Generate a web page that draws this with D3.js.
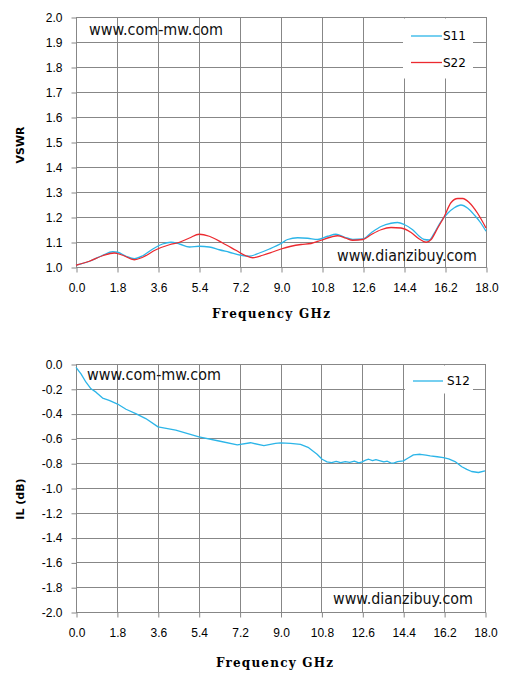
<!DOCTYPE html>
<html>
<head>
<meta charset="utf-8">
<script src="https://cdn.jsdelivr.net/npm/d3@7"></script>
<style>
  html, body { margin: 0; padding: 0; background: #fff; }
  svg { display: block; }
</style>
</head>
<body>
<script>
// ---------- DATA ----------
const xTickValues = [0, 1.8, 3.6, 5.4, 7.2, 9.0, 10.8, 12.6, 14.4, 16.2, 18.0];
const xTickLabels = ["0.0", "1.8", "3.6", "5.4", "7.2", "9.0", "10.8", "12.6", "14.4", "16.2", "18.0"];
const vswrTickValues = [1.0, 1.1, 1.2, 1.3, 1.4, 1.5, 1.6, 1.7, 1.8, 1.9, 2.0];
const vswrTickLabels = ["1.0", "1.1", "1.2", "1.3", "1.4", "1.5", "1.6", "1.7", "1.8", "1.9", "2.0"];
const ilTickValues = [0, -0.2, -0.4, -0.6, -0.8, -1.0, -1.2, -1.4, -1.6, -1.8, -2.0];
const ilTickLabels = ["0.0", "-0.2", "-0.4", "-0.6", "-0.8", "-1.0", "-1.2", "-1.4", "-1.6", "-1.8", "-2.0"];

const s11Freq = [0.00, 0.59, 1.17, 1.61, 1.83, 2.20, 2.56, 2.93, 3.37, 3.80, 4.17, 4.54, 4.98, 5.41, 5.85, 6.29, 6.73, 7.24, 7.61, 8.05, 8.49, 9.00,
  9.29, 9.73, 10.17, 10.61, 11.05, 11.41, 11.78, 12.15, 12.59, 12.95, 13.39, 13.83, 14.12, 14.41, 14.78, 15.07, 15.29, 15.51, 15.73, 16.02, 16.32, 16.61, 16.90, 17.20, 17.49, 17.78, 18.00];
const s11Vals = [1.007, 1.023, 1.047, 1.061, 1.059, 1.043, 1.033, 1.045, 1.072, 1.092, 1.099, 1.092, 1.080, 1.083, 1.080, 1.069, 1.059, 1.047, 1.043, 1.056, 1.072, 1.094,
  1.110, 1.117, 1.115, 1.110, 1.123, 1.131, 1.120, 1.110, 1.112, 1.136, 1.162, 1.175, 1.178, 1.170, 1.149, 1.123, 1.110, 1.108, 1.136, 1.182, 1.215, 1.237, 1.248, 1.235, 1.208, 1.175, 1.143];

const s22Freq = [0.00, 0.59, 1.17, 1.68, 2.05, 2.56, 2.93, 3.51, 4.10, 4.54, 4.98, 5.41, 5.85, 6.44, 7.02, 7.46, 7.76, 8.20, 8.63, 9.00,
  9.44, 9.88, 10.32, 10.76, 11.20, 11.49, 11.85, 12.15, 12.59, 12.95, 13.39, 13.83, 14.27, 14.71, 15.07, 15.37, 15.59, 15.88, 16.17, 16.46, 16.76, 16.98, 17.27, 17.63, 18.00];
const s22Vals = [1.007, 1.023, 1.045, 1.056, 1.047, 1.029, 1.039, 1.069, 1.089, 1.099, 1.116, 1.131, 1.123, 1.096, 1.067, 1.045, 1.037, 1.047, 1.060, 1.072,
  1.083, 1.090, 1.094, 1.107, 1.120, 1.125, 1.115, 1.107, 1.110, 1.129, 1.149, 1.158, 1.156, 1.138, 1.112, 1.099, 1.110, 1.156, 1.202, 1.257, 1.274, 1.274, 1.257, 1.215, 1.156];

const s12Freq = [0.00, 0.22, 0.44, 0.66, 0.88, 1.17, 1.46, 1.83, 2.20, 2.63, 3.07, 3.61, 4.39, 5.41, 6.29, 7.10, 7.68, 8.27, 8.78, 9.00,
  9.44, 9.88, 10.24, 10.61, 10.83, 11.05, 11.25, 11.45, 11.65, 11.85, 12.05, 12.25, 12.45, 12.59, 12.75, 12.88, 13.05, 13.20, 13.39, 13.55, 13.70, 13.85, 13.98, 14.15, 14.41,
  14.60, 14.85, 15.15, 15.40, 15.59, 15.90, 16.17, 16.40, 16.68, 16.98, 17.20, 17.41, 17.71, 18.00];
const s12Vals = [-0.027, -0.080, -0.147, -0.200, -0.227, -0.275, -0.293, -0.323, -0.365, -0.400, -0.440, -0.507, -0.533, -0.587, -0.621, -0.653, -0.635, -0.659, -0.640, -0.636,
  -0.640, -0.648, -0.675, -0.728, -0.768, -0.789, -0.795, -0.785, -0.796, -0.787, -0.794, -0.784, -0.797, -0.789, -0.775, -0.768, -0.780, -0.772, -0.781, -0.790, -0.784, -0.798, -0.800, -0.788, -0.781,
  -0.760, -0.733, -0.728, -0.735, -0.741, -0.748, -0.755, -0.765, -0.787, -0.829, -0.850, -0.867, -0.875, -0.861];

// ---------- DRAW ----------
const W = 507, H = 679;
const svg = d3.select("body").append("svg").attr("width", W).attr("height", H)
  .style("font-family", "'DejaVu Sans', Verdana, sans-serif");
const GRID = "#878787";
const BLUE = "#2cb5e8";
const RED = "#ec2a30";

function drawPanel(cfg) {
  const x = d3.scaleLinear().domain([0, 18]).range([cfg.left, cfg.right]);
  const y = d3.scaleLinear().domain(cfg.yDomain).range([cfg.bottom, cfg.top]);
  const g = svg.append("g");

  // grid
  g.append("g").selectAll("line").data(cfg.yTicks).join("line")
    .attr("x1", cfg.left).attr("x2", cfg.right + 1)
    .attr("y1", d => Math.round(y(d)) + 0.5).attr("y2", d => Math.round(y(d)) + 0.5)
    .attr("stroke", GRID).attr("stroke-width", 1);
  g.append("g").selectAll("line").data(xTickValues).join("line")
    .attr("x1", d => Math.round(x(d)) + 0.5).attr("x2", d => Math.round(x(d)) + 0.5)
    .attr("y1", cfg.top).attr("y2", Math.round(cfg.bottom) + 1)
    .attr("stroke", GRID).attr("stroke-width", 1);

  // axes
  const xa = g.append("g").attr("transform", `translate(0.5,${Math.round(cfg.bottom) + 0.5})`)
    .call(d3.axisBottom(x).tickValues(xTickValues).tickSize(5)
      .tickFormat((d, i) => xTickLabels[i]));
  xa.select(".domain").remove();
  xa.selectAll(".tick line").attr("stroke", GRID);
  xa.selectAll(".tick text").attr("font-size", 12).attr("fill", "#000")
    .attr("font-family", null).attr("dy", "0.35em")
    .attr("y", cfg.xLabelY - Math.round(cfg.bottom) - 0.5);

  const ya = g.append("g").attr("transform", `translate(${cfg.left + 0.5},0.5)`)
    .call(d3.axisLeft(y).tickValues(cfg.yTicks).tickSize(5).tickPadding(9)
      .tickFormat((d, i) => cfg.yLabels[i]));
  ya.select(".domain").remove();
  ya.selectAll(".tick line").attr("stroke", GRID);
  ya.selectAll(".tick text").attr("font-size", 12).attr("fill", "#000").attr("font-family", null);

  // watermarks
  g.append("text").attr("x", cfg.wm1[0]).attr("y", cfg.wm1[1]).attr("dy", "0.35em")
    .attr("font-size", 15).attr("textLength", 134).attr("lengthAdjust", "spacingAndGlyphs")
    .attr("fill", "#111").text("www.com-mw.com");
  g.append("text").attr("x", cfg.wm2[0]).attr("y", cfg.wm2[1]).attr("dy", "0.35em")
    .attr("font-size", 15).attr("textLength", 140).attr("lengthAdjust", "spacingAndGlyphs")
    .attr("fill", "#111").text("www.dianzibuy.com");

  // legend box
  g.append("rect").attr("x", cfg.legend.x).attr("y", cfg.legend.y)
    .attr("width", cfg.legend.w).attr("height", cfg.legend.h).attr("fill", "#fff");

  // series
  const line = d3.line().x(d => x(d[0])).y(d => y(d[1])).curve(cfg.curve);
  cfg.series.forEach((s, i) => {
    const pts = s.freq.map((f, k) => [f, s.vals[k]]);
    g.append("path").attr("d", line(pts)).attr("fill", "none")
      .attr("stroke", s.color).attr("stroke-width", 1.3).attr("stroke-linejoin", "round");
    const ly = cfg.legend.itemY[i];
    g.append("line").attr("x1", cfg.legend.lineX[0]).attr("x2", cfg.legend.lineX[1])
      .attr("y1", ly).attr("y2", ly).attr("stroke", s.color).attr("stroke-width", 1.3);
    g.append("text").attr("x", cfg.legend.textX).attr("y", ly).attr("dy", "0.35em")
      .attr("font-size", 12).attr("fill", "#000").text(s.name);
  });

  // axis titles
  g.append("text").attr("x", cfg.xTitle[0]).attr("y", cfg.xTitle[1]).attr("dy", "0.35em")
    .attr("text-anchor", "middle")
    .style("font-family", "'DejaVu Serif', 'Liberation Serif', serif").style("font-weight", "bold")
    .attr("font-size", 12).attr("textLength", cfg.xTitleLen).attr("lengthAdjust", "spacing")
    .attr("fill", "#000").text("Frequency GHz");
  g.append("text").attr("transform", `translate(${cfg.yTitle[0]},${cfg.yTitle[1]}) rotate(-90)`)
    .attr("dy", "0.35em").attr("text-anchor", "middle").style("font-weight", "bold")
    .attr("font-size", 11).attr("fill", "#000").text(cfg.yTitleText);
}

drawPanel({
  left: 76, right: 486, top: 17, bottom: 267,
  yDomain: [1.0, 2.0], yTicks: vswrTickValues, yLabels: vswrTickLabels,
  xLabelY: 288, xTitle: [271, 314], xTitleLen: 118, yTitle: [20, 145], yTitleText: "VSWR",
  wm1: [89, 30], wm2: [337, 256],
  legend: { x: 403, y: 18.5, w: 70, h: 60, lineX: [411, 442], textX: 443, itemY: [36, 62.5] },
  curve: d3.curveMonotoneX,
  series: [
    { name: "S11", freq: s11Freq, vals: s11Vals, color: BLUE },
    { name: "S22", freq: s22Freq, vals: s22Vals, color: RED }
  ]
});

drawPanel({
  left: 76, right: 485, top: 364, bottom: 612,
  yDomain: [-2.0, 0.0], yTicks: ilTickValues, yLabels: ilTickLabels,
  xLabelY: 633, xTitle: [274.5, 663], xTitleLen: 117, yTitle: [20, 499], yTitleText: "IL (dB)",
  wm1: [87, 375], wm2: [333, 599],
  legend: { x: 405, y: 365.5, w: 68, h: 28, lineX: [413, 443], textX: 447, itemY: [381] },
  curve: d3.curveLinear,
  series: [
    { name: "S12", freq: s12Freq, vals: s12Vals, color: BLUE }
  ]
});
</script>
</body>
</html>
